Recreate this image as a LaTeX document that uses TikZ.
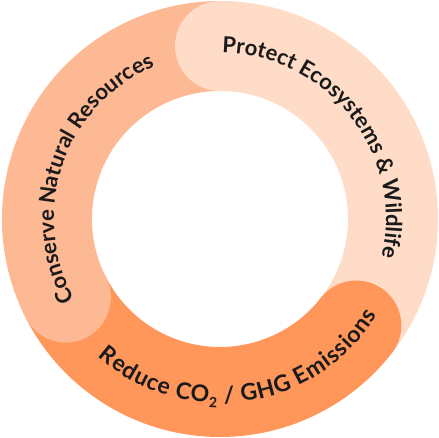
\documentclass[tikz,border=0pt]{standalone}
\usepackage{fontspec}
\setmainfont{Lato}
\usetikzlibrary{decorations.text}
\definecolor{protectc}{HTML}{FFDCC8}
\definecolor{conservec}{HTML}{FDB894}
\definecolor{reducec}{HTML}{FF965A}
\definecolor{txtc}{HTML}{1A1A1A}
\newcommand\lblfmt{\bfseries\fontsize{22}{26}\selectfont}
\newcommand\lblfmtb{\bfseries\fontsize{23}{27}\selectfont}
\begin{document}
\begin{tikzpicture}[x=1pt,y=1pt,
  seg/.style={line width=90pt, line cap=round},
  arclabel/.style={decorate, decoration={text along path, text align=center, text color=txtc, text={#1}}},
  fitlabel/.style={decorate, decoration={text along path, text align=fit to path, text color=txtc, text={#1}}}]
\useasboundingbox (-220,-219) rectangle (219,219);
% ring segments
\draw[seg, protectc] (90:173) arc[start angle=90, end angle=-38, radius=173];
\draw[seg, reducec] (-38:173) arc[start angle=-38, end angle=-153, radius=173];
\draw[seg, conservec] (207:173) arc[start angle=207, end angle=90, radius=173];
\fill[protectc] (90:173) circle[radius=45];
% labels
\path[arclabel={|\lblfmt|Protect Ecosystems {\&} Wildlife}] (108:166) arc[start angle=108, end angle=-32, radius=166];
\path[arclabel={|\lblfmt|Conserve Natural Resources}] (231:166) arc[start angle=231, end angle=91, radius=166];
\path[fitlabel={|\lblfmtb|Reduce CO{\raisebox{-4.5pt}{\fontsize{14}{14}\selectfont 2}} / GHG Emissions}] (228.5:184) arc[start angle=228.5, end angle=328.5, radius=184];
\end{tikzpicture}
\end{document}
